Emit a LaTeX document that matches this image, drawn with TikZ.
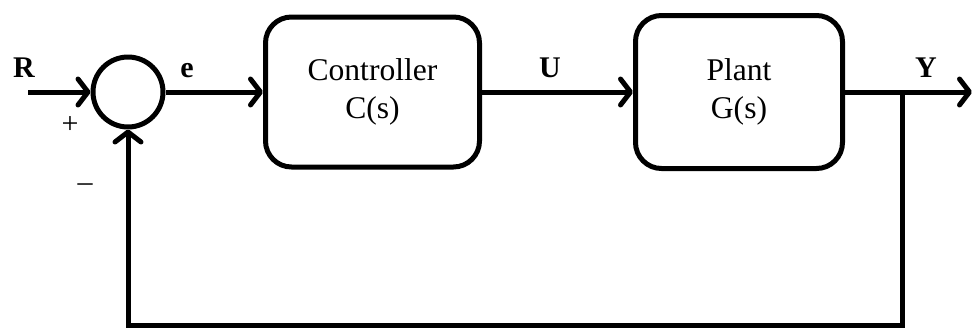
\documentclass[tikz,border=0pt]{standalone}
\usepackage{fontspec}
\setmainfont{Liberation Serif}
\usetikzlibrary{arrows.meta}

\begin{document}
\begin{tikzpicture}[x=0.5pt, y=-0.5pt,
  blk/.style={draw, line width=2.5pt, rounded corners=13pt, align=center,
    font=\fontsize{15.8}{19}\selectfont},
  sig/.style={line width=2.5pt, -{Straight Barb[length=5pt,width=13pt,round]}},
  lbl/.style={anchor=base, font=\fontsize{15}{18}\selectfont\bfseries},
  sgn/.style={font=\fontsize{15}{16}\selectfont},
]
\useasboundingbox (0,0) rectangle (974,333);

\node[draw, circle, line width=2.5pt, minimum size=35pt, inner sep=0pt] (sum) at (128,92) {};
\node[blk, minimum width=107pt, minimum height=75pt] (ctrl) at (372.5,92) {Controller\\C(s)};
\node[blk, minimum width=103.5pt, minimum height=76.5pt] (plant) at (739,92) {Plant\\G(s)};

\coordinate (in) at (28,92);
\coordinate (out) at (972,92);
\coordinate (br) at (902,92);
\coordinate (fb) at (128,325);

\draw[sig] (in) -- (sum);
\draw[sig] (sum) -- (ctrl);
\draw[sig] (ctrl) -- (plant);
\draw[sig] (plant) -- (out);
\draw[sig] (br) |- (fb) -- (sum);

\node[lbl] (r) at (24,77) {R};
\node[lbl] (e) at (187,77) {e};
\node[lbl] (u) at (550,77) {U};
\node[lbl] (y) at (926,77) {Y};
\node[sgn] (plus) at (70,125) {+};
\node[sgn] (minus) at (85,188) {--};

\end{tikzpicture}
\end{document}
